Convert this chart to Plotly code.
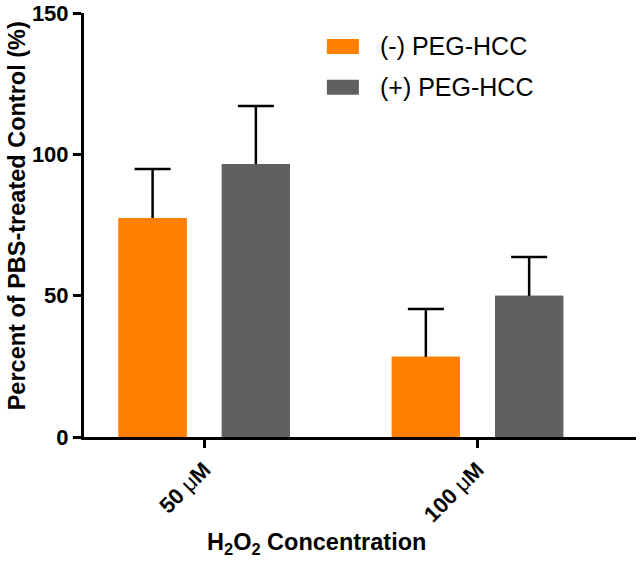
import plotly.graph_objects as go

categories = ["50 μM", "100 μM"]
series_names = ["(-) PEG-HCC", "(+) PEG-HCC"]
minus_values = [77.5, 28.4]
minus_errors = [17.3, 16.9]
plus_values = [96.6, 50.0]
plus_errors = [20.5, 13.7]
y_ticks = [0, 50, 100, 150]

orange = "#FF8000"
gray = "#606060"
font_family = "Liberation Sans, Arial, sans-serif"

# tick text: numbers and unit letter bold, the Greek mu plain
tick_text = ["<b>" + c.replace("μ", "</b>μ<b>") + "</b>" for c in categories]

series = [
    (series_names[0], minus_values, minus_errors, orange, "a"),
    (series_names[1], plus_values, plus_errors, gray, "b"),
]

fig = go.Figure()
# bars with (symmetric) error bars
for name, vals, errs, col, grp in series:
    fig.add_trace(go.Bar(
        x=categories, y=vals, name=name, offsetgroup=grp,
        marker=dict(color=col, line=dict(width=0)),
        error_y=dict(type="data", array=errs, color="black",
                     thickness=2.5, width=18),
        showlegend=False,
    ))
# same bars on top, hiding the lower half of each error bar
for name, vals, errs, col, grp in series:
    fig.add_trace(go.Bar(
        x=categories, y=vals, name=name, offsetgroup=grp,
        marker=dict(color=col, line=dict(width=0)),
        showlegend=False, hoverinfo="skip",
    ))

fig.update_layout(
    width=641, height=565,
    margin=dict(l=84, r=5, t=13, b=128),
    plot_bgcolor="white", paper_bgcolor="white",
    barmode="group", bargap=0.244, bargroupgap=0.34,
    font=dict(family=font_family, color="black"),
)
fig.update_xaxes(
    range=[-0.44, 1.58], automargin=False,
    tickvals=categories, ticktext=tick_text,
    showline=True, linecolor="black", linewidth=3,
    ticks="outside", ticklen=8, tickwidth=3, tickcolor="black",
    tickangle=-45, tickfont=dict(size=22, family=font_family),
    showgrid=False, zeroline=False,
)
fig.update_yaxes(
    range=[0, 150], tickvals=y_ticks, automargin=False,
    ticklabeloverflow="allow",
    showline=True, linecolor="black", linewidth=3,
    ticks="outside", ticklen=8, tickwidth=3, tickcolor="black",
    tickfont=dict(size=22, family=font_family, weight="bold"),
    showgrid=False, zeroline=False,
)

fig.add_annotation(
    text="<b>Percent of PBS-treated Control (%)</b>", textangle=-90,
    xref="paper", yref="paper", x=-0.121, y=0.521,
    xanchor="center", yanchor="middle",
    showarrow=False, font=dict(size=23.5, family=font_family),
)
fig.add_annotation(
    text="<b>H<sub>2</sub>O<sub>2</sub> Concentration</b>",
    xref="paper", yref="paper", x=0.421, y=-0.25, yanchor="middle",
    showarrow=False, font=dict(size=23.5, family=font_family),
)

# legend drawn as swatches + labels
for i, (name, col) in enumerate(zip(series_names, [orange, gray])):
    yc = 0.921 - i * 0.096
    fig.add_shape(type="rect", xref="paper", yref="paper",
                  x0=0.440, x1=0.498, y0=yc - 0.0177, y1=yc + 0.0177,
                  fillcolor=col, line=dict(width=0))
    fig.add_annotation(text=name, xref="paper", yref="paper",
                       x=0.533, y=yc, xanchor="left", yanchor="middle",
                       showarrow=False, font=dict(size=25, family=font_family))

# remove the browser's default 8px page margin so the figure fills the window
fig.write_html("out.html", config={"displayModeBar": False},
               post_script="document.body.style.margin='0';")
